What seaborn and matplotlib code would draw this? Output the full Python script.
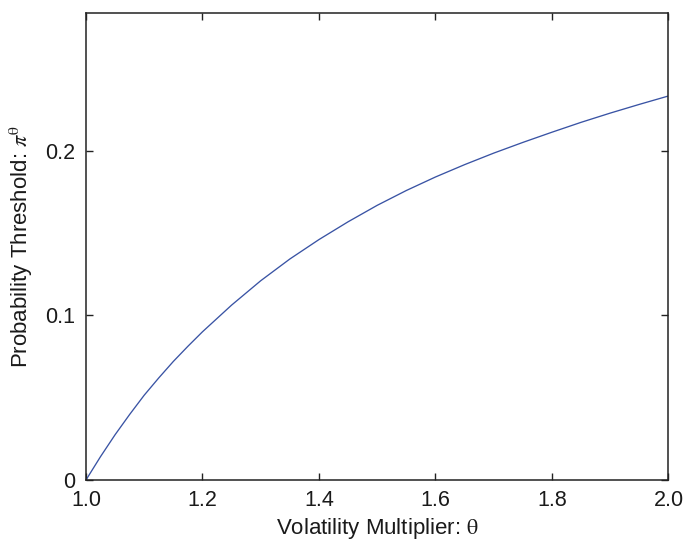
from matplotlib import pyplot as plt
import pandas as pd
import numpy as np
import seaborn as sns

# values
theta = [1.000, 1.025, 1.050, 1.075, 1.100, 1.125, 1.150, 1.175, 1.20, 1.25,
         1.30, 1.35, 1.40, 1.45, 1.50, 1.55, 1.60, 1.65, 1.70, 1.75, 1.80,
         1.85, 1.90, 1.95, 2.00]
pi_theta = [0.0, 0.0142, 0.0275, 0.0398, 0.0515, 0.0620, 0.0720, 0.0812,
            0.0900, 0.1062, 0.1210, 0.1342, 0.1460, 0.1568, 0.1668, 0.1758,
            0.1840, 0.1915, 0.1985, 0.2050, 0.2112, 0.2172, 0.2228, 0.2281,
            0.2332]
xticks = [1.0, 1.2, 1.4, 1.6, 1.8, 2.0]
yticks = [0, 0.1, 0.2]
yticklabels = ['0', '0.1', '0.2']

sns.set_style('ticks')
plt.rcParams['font.family'] = ['Liberation Sans', 'DejaVu Sans']
plt.rcParams['mathtext.fontset'] = 'stix'
plt.rcParams['xtick.direction'] = 'in'
plt.rcParams['ytick.direction'] = 'in'

df = pd.DataFrame({'theta': theta, 'pi': pi_theta})

fig = plt.figure(figsize=(6.84, 5.41), dpi=100)
ax = fig.add_axes([0.1257, 0.1128, 0.8516, 0.8632])
sns.lineplot(data=df, x='theta', y='pi', ax=ax, color='#3953a4', linewidth=0.95)

ax.set_xlim(1.0, 2.0)
ax.set_ylim(0, 0.2836)
ax.set_xticks(xticks)
ax.set_xticklabels(['%.1f' % v for v in xticks])
ax.set_yticks(yticks)
ax.set_yticklabels(yticklabels)
ax.tick_params(axis='both', labelsize=15.5, length=5, width=1.0, color='#222222',
               labelcolor='#1a1a1a', top=True, right=True)
ax.tick_params(axis='x', pad=7)
ax.tick_params(axis='y', pad=8)
for s in ax.spines.values():
    s.set_linewidth(1.1)
    s.set_color('#222222')

ax.set_xlabel(r'Volatility Multiplier: $\mathrm{\theta}$', fontsize=16,
              color='#1a1a1a')
ax.set_ylabel(r'Probability Threshold: $\pi^{\mathrm{\theta}}$', fontsize=16,
              color='#1a1a1a')
ax.xaxis.set_label_coords(0.5, -0.077)
ax.yaxis.set_label_coords(-0.087, 0.5)

fig.savefig('out.png', dpi=100)
